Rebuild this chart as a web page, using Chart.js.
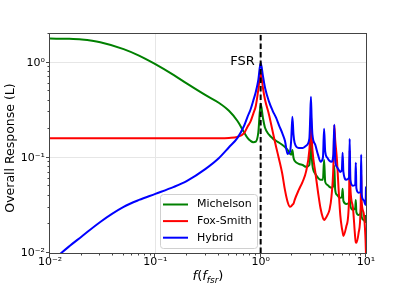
<!DOCTYPE html>
<html>
<head>
<meta charset="utf-8">
<script src="https://cdn.jsdelivr.net/npm/chart.js@4.4.0/dist/chart.umd.min.js"></script>
<style>
  html, body { margin: 0; padding: 0; background: #fff; }
  #wrap { width: 407px; height: 285px; }
</style>
</head>
<body>
<div id="wrap"><canvas id="chart" width="407" height="285"></canvas></div>
<script>
// frequency, in units of the free spectral range
const freq = [
  0.01, 0.015, 0.02, 0.03, 0.05, 0.07, 0.1, 0.15, 0.2, 0.3,
  0.4, 0.5, 0.6, 0.7, 0.75, 0.8, 0.85, 0.9, 0.95, 1.0,
  1.05, 1.1, 1.2, 1.3, 1.4, 1.5, 1.6, 1.7, 1.8, 1.9,
  1.95, 2.0, 2.05, 2.1, 2.3, 2.5, 2.7, 2.9,
  2.95, 3.0, 3.05, 3.1, 3.3, 3.5, 3.7, 3.9,
  4.0, 4.1, 4.3, 4.5, 4.7, 4.9,
  5.0, 5.1, 5.3, 5.5, 5.7, 5.9,
  6.0, 6.1, 6.5, 6.9,
  7.0, 7.1, 7.5, 7.9,
  8.0, 8.1, 8.5, 8.9,
  9.0, 9.1, 9.5, 9.9, 10.0
];

const michelson = [
  1.79, 1.78, 1.75, 1.64, 1.387, 1.185, 0.964, 0.739, 0.601, 0.455,
  0.379, 0.312, 0.245, 0.183, 0.162, 0.151, 0.146, 0.148, 0.185, 0.37,
  0.264, 0.207, 0.175, 0.16, 0.151, 0.144, 0.137, 0.13, 0.121, 0.11,
  0.108, 0.121, 0.1, 0.093, 0.0865, 0.084, 0.0804, 0.084,
  0.108, 0.166, 0.108, 0.084, 0.068, 0.0616, 0.0587, 0.0587,
  0.0953, 0.0559, 0.052, 0.0495, 0.0484, 0.0507,
  0.0824, 0.046, 0.0408, 0.0388, 0.038, 0.0388,
  0.0472, 0.0353, 0.0328, 0.0336,
  0.0398, 0.0313, 0.0284, 0.0297,
  0.0361, 0.027, 0.0251, 0.0263,
  0.0313, 0.0239, 0.0223, 0.0212, 0.0251
];

const foxSmith = [
  0.161, 0.161, 0.161, 0.161, 0.161, 0.161, 0.161, 0.161, 0.161, 0.161,
  0.161, 0.162, 0.166, 0.183, 0.212, 0.24, 0.29, 0.353, 0.52, 0.785,
  0.545, 0.408, 0.284, 0.189, 0.131, 0.095, 0.0688, 0.046, 0.0346, 0.0306,
  0.031, 0.0321, 0.033, 0.036, 0.046, 0.056, 0.072, 0.121,
  0.17, 0.3, 0.17, 0.121, 0.071, 0.044, 0.0295, 0.0233,
  0.0222, 0.0228, 0.025, 0.0284, 0.039, 0.081,
  0.22, 0.155, 0.095, 0.046, 0.025, 0.0183,
  0.0166, 0.0151, 0.019, 0.036,
  0.12, 0.05, 0.0306, 0.0145,
  0.013, 0.0128, 0.0162, 0.0306,
  0.075, 0.035, 0.0263, 0.0137, 0.0095
];

const hybrid = [
  0.0079, 0.0116, 0.0149, 0.0212, 0.0305, 0.0361, 0.0418, 0.0495, 0.0573, 0.0766,
  0.099, 0.129, 0.161, 0.22, 0.27, 0.32, 0.398, 0.495, 0.66, 1.0,
  0.73, 0.546, 0.389, 0.312, 0.264, 0.217, 0.183, 0.151, 0.11, 0.116,
  0.155, 0.27, 0.175, 0.144, 0.127, 0.127, 0.134, 0.16,
  0.251, 0.439, 0.251, 0.175, 0.137, 0.108, 0.091, 0.1,
  0.202, 0.116, 0.1, 0.093, 0.091, 0.108,
  0.223, 0.095, 0.08, 0.075, 0.071, 0.075,
  0.113, 0.071, 0.059, 0.062,
  0.158, 0.059, 0.051, 0.052,
  0.089, 0.048, 0.043, 0.044,
  0.108, 0.041, 0.036, 0.032, 0.05
];

const seriesNames = ['Michelson', 'Fox-Smith', 'Hybrid'];
const fsrFreq = 1;
const fsrLabel = 'FSR';

const xRange = [0.01, 10];
const yRange = [0.01, 2.0];
const xMajor = [0.01, 0.1, 1, 10];
const xTickLabels = ['10\u207B\u00B2', '10\u207B\u00B9', '10\u2070', '10\u00B9'];
const yMajor = [0.01, 0.1, 1];
const yTickLabels = ['10\u207B\u00B2', '10\u207B\u00B9', '10\u2070'];

const FONT = "'DejaVu Sans', sans-serif";

function toPoints(ys) {
  return ys.map(function(y, i) { return { x: freq[i], y: y }; });
}

// all decade + sub-decade tick values between lo and hi
function logTicks(lo, hi) {
  const out = [];
  for (let d = lo; d < hi * 1.0001; d *= 10) {
    for (let k = 1; k <= 9; k++) {
      const v = +(k * d).toPrecision(6);
      if (v >= lo * 0.9999 && v <= hi * 1.0001) out.push(v);
    }
  }
  return out;
}

function isDecade(v) {
  const l = Math.log10(v);
  return Math.abs(l - Math.round(l)) < 1e-6;
}

function labelFor(v, majors, labels) {
  for (let i = 0; i < majors.length; i++) {
    if (Math.abs(Math.log10(v) - Math.log10(majors[i])) < 1e-6) return labels[i];
  }
  return '';
}

function gridColor(ctx) {
  const s = ctx.scale;
  if (!ctx.tick) return 'rgba(0,0,0,0)';
  const v = ctx.tick.value;
  if (isDecade(v) && v > s.min * 1.001 && v < s.max * 0.999) return '#e6e6e6';
  return 'rgba(0,0,0,0)';
}

// frame, tick marks, axis titles, FSR label, legend
const decorPlugin = {
  id: 'decor',
  afterDatasetsDraw(chart) {
    const ctx = chart.ctx;
    const a = chart.chartArea;
    const xs = chart.scales.x;
    const ys = chart.scales.y;
    ctx.save();

    // frame
    ctx.strokeStyle = '#444';
    ctx.lineWidth = 1;
    ctx.strokeRect(Math.round(a.left) - 0.5, Math.round(a.top) - 0.5,
      Math.round(a.right - a.left) + 1, Math.round(a.bottom - a.top) + 1);

    // tick marks (outside)
    ctx.beginPath();
    xs.ticks.forEach(function(t) {
      const px = Math.round(xs.getPixelForValue(t.value)) - 0.5;
      const len = isDecade(t.value) ? 3.5 : 2;
      ctx.moveTo(px, a.bottom + 0.5);
      ctx.lineTo(px, a.bottom + 0.5 + len);
    });
    ys.ticks.forEach(function(t) {
      const py = Math.round(ys.getPixelForValue(t.value)) - 0.5;
      const len = isDecade(t.value) ? 3.5 : 2;
      ctx.moveTo(a.left - 0.5, py);
      ctx.lineTo(a.left - 0.5 - len, py);
    });
    ctx.stroke();

    // FSR label next to the marker line
    ctx.fillStyle = '#000';
    ctx.font = '13px ' + FONT;
    ctx.textAlign = 'right';
    ctx.textBaseline = 'middle';
    ctx.fillText(fsrLabel, xs.getPixelForValue(fsrFreq) - 6, ys.getPixelForValue(1) - 1);

    // legend
    const lx = 160, ly = 194, lw = 97, lh = 54;
    ctx.beginPath();
    ctx.roundRect(lx + 0.5, ly + 0.5, lw, lh, 3);
    ctx.fillStyle = 'rgba(255,255,255,0.8)';
    ctx.fill();
    ctx.strokeStyle = '#d0d0d0';
    ctx.stroke();
    ctx.font = '11px ' + FONT;
    ctx.textAlign = 'left';
    ctx.textBaseline = 'middle';
    let row = 0;
    chart.data.datasets.forEach(function(ds) {
      if (ds.isMarker) return;
      const yy = ly + 10.5 + row * 16.6;
      ctx.strokeStyle = ds.borderColor;
      ctx.lineWidth = 2;
      ctx.beginPath();
      ctx.moveTo(lx + 3, yy);
      ctx.lineTo(lx + 28, yy);
      ctx.stroke();
      ctx.fillStyle = '#000';
      ctx.fillText(ds.label, lx + 37, yy);
      row++;
    });

    // y axis title
    ctx.save();
    ctx.translate(11, 148);
    ctx.rotate(-Math.PI / 2);
    ctx.font = '12.5px ' + FONT;
    ctx.textAlign = 'center';
    ctx.textBaseline = 'middle';
    ctx.fillStyle = '#000';
    ctx.fillText('Overall Response (L)', 0, 0);
    ctx.restore();

    // x axis title: f(f_fsr)
    const base = 280;
    const parts = [
      { t: 'f', f: 'italic 13px ' + FONT, dy: 0 },
      { t: '(', f: '13px ' + FONT, dy: 0 },
      { t: 'f', f: 'italic 13px ' + FONT, dy: 0 },
      { t: 'fsr', f: 'italic 9px ' + FONT, dy: 3 },
      { t: ')', f: '13px ' + FONT, dy: 0 }
    ];
    let total = 0;
    parts.forEach(function(p) { ctx.font = p.f; p.w = ctx.measureText(p.t).width; total += p.w; });
    let cx = (a.left + a.right) / 2 - total / 2;
    ctx.textAlign = 'left';
    ctx.textBaseline = 'alphabetic';
    parts.forEach(function(p) {
      ctx.font = p.f;
      ctx.fillText(p.t, cx, base + p.dy);
      cx += p.w;
    });

    ctx.restore();
  }
};

const ctxEl = document.getElementById('chart');

new Chart(ctxEl, {
  type: 'line',
  data: {
    datasets: [
      {
        label: seriesNames[0],
        data: toPoints(michelson),
        borderColor: '#008000',
        order: 3
      },
      {
        label: seriesNames[1],
        data: toPoints(foxSmith),
        borderColor: '#ff0000',
        order: 2
      },
      {
        label: seriesNames[2],
        data: toPoints(hybrid),
        borderColor: '#0000ff',
        order: 1
      },
      {
        label: fsrLabel,
        isMarker: true,
        data: [{ x: fsrFreq, y: yRange[0] }, { x: fsrFreq, y: yRange[1] }],
        borderColor: '#000000',
        borderDash: [5.5, 3],
        cubicInterpolationMode: 'default',
        order: 0
      }
    ]
  },
  options: {
    responsive: false,
    animation: false,
    devicePixelRatio: 1,
    layout: { padding: { left: 0, top: 34, right: 41, bottom: 0 } },
    elements: {
      point: { radius: 0 },
      line: { borderWidth: 2, fill: false, cubicInterpolationMode: 'monotone' }
    },
    plugins: {
      legend: { display: false },
      tooltip: { enabled: false }
    },
    scales: {
      x: {
        type: 'logarithmic',
        min: xRange[0],
        max: xRange[1],
        afterBuildTicks: function(scale) {
          scale.ticks = logTicks(xRange[0], xRange[1]).map(function(v) { return { value: v }; });
        },
        afterFit: function(scale) { scale.height = 32; },
        ticks: {
          autoSkip: false,
          maxRotation: 0,
          padding: 3,
          color: '#000',
          font: { family: FONT, size: 11 },
          callback: function(v) { return labelFor(v, xMajor, xTickLabels); }
        },
        grid: { color: gridColor, drawTicks: false, lineWidth: 1 },
        border: { display: false }
      },
      y: {
        type: 'logarithmic',
        min: yRange[0],
        max: yRange[1],
        afterBuildTicks: function(scale) {
          scale.ticks = logTicks(yRange[0], yRange[1]).map(function(v) { return { value: v }; });
        },
        afterFit: function(scale) { scale.width = 50; },
        ticks: {
          autoSkip: false,
          padding: 5,
          color: '#000',
          font: { family: FONT, size: 11 },
          callback: function(v) { return labelFor(v, yMajor, yTickLabels); }
        },
        grid: { color: gridColor, drawTicks: false, lineWidth: 1 },
        border: { display: false }
      }
    }
  },
  plugins: [decorPlugin]
});
</script>
</body>
</html>
